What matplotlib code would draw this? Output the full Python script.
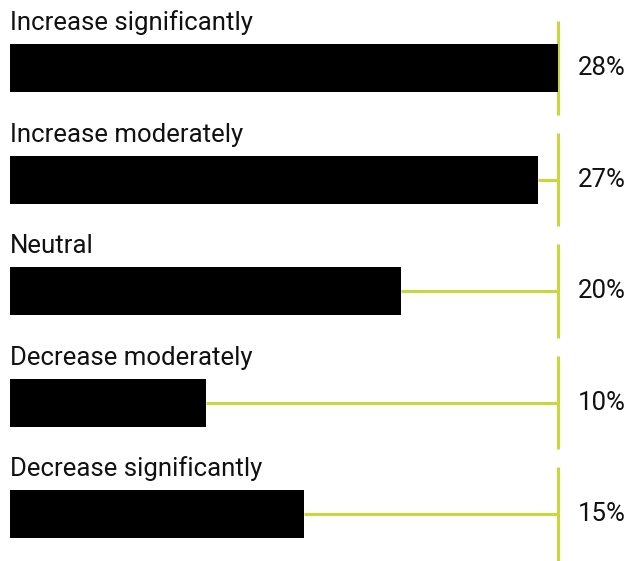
import matplotlib
matplotlib.use("Agg")
import matplotlib.pyplot as plt

categories = ["Increase significantly", "Increase moderately", "Neutral",
              "Decrease moderately", "Decrease significantly"]
values = [28, 27, 20, 10, 15]
labels = ["28%", "27%", "20%", "10%", "15%"]

green = "#c8d83c"
plt.rcParams['font.family'] = ['Roboto', 'DejaVu Sans']

fig = plt.figure(figsize=(6.29, 5.61), dpi=100)
ax = fig.add_axes([0, 0, 1, 1])

end = max(values)
for i, (cat, v, lab) in enumerate(zip(categories, values, labels)):
    # connector from bar end to the right-hand rule
    ax.plot([v, end], [i, i], color=green, lw=2.2, zorder=1, solid_capstyle='butt')
    ax.plot([end, end], [i - 0.42, i + 0.42], color=green, lw=2.2, zorder=1,
            solid_capstyle='butt')
    ax.barh(i, v, height=0.43, color="black", zorder=2)
    ax.text(0, i - 0.34, cat, fontsize=18.5, color="#111111", va="baseline", ha="left")
    ax.text(end + 1.0, i, lab, fontsize=18.5, color="#111111", va="center", ha="left")

ax.set_xlim(-0.511, 31.63)
ax.set_ylim(4.42, -0.61)
ax.axis("off")

fig.savefig("out.png", dpi=100)
